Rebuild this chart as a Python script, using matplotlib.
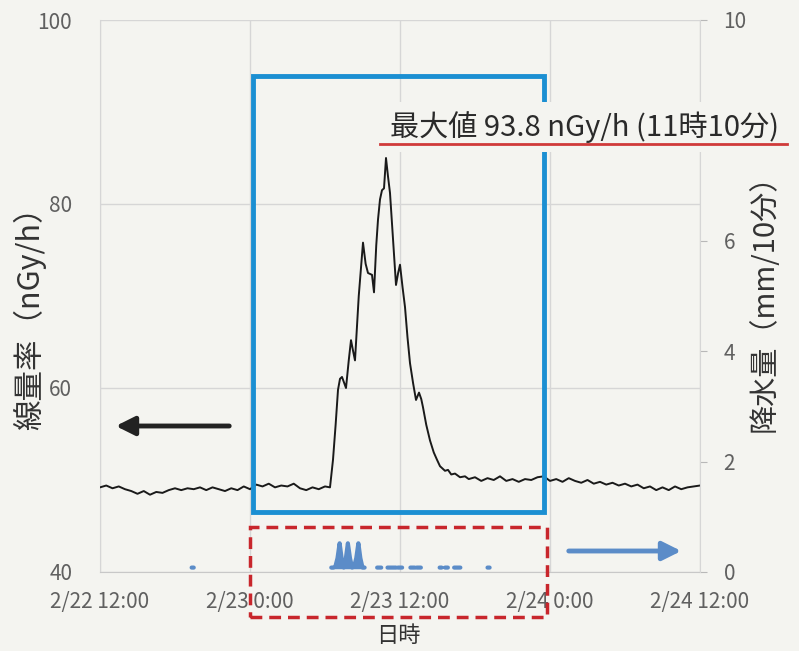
import numpy as np
import matplotlib
matplotlib.use("Agg")
import matplotlib.pyplot as plt
from matplotlib.patches import Rectangle, FancyArrowPatch
from matplotlib.lines import Line2D

plt.rcParams['font.family'] = ['Noto Sans CJK JP', 'DejaVu Sans']

nan = np.nan

# hours from 2/22 12:00
dose_h = [0.0, 0.5, 1.0, 1.5, 2.0, 2.5, 3.0, 3.5, 4.0, 4.5, 5.0, 5.5, 6.0, 6.5, 7.0, 7.5,
          8.0, 8.5, 9.0, 9.5, 10.0, 10.5, 11.0, 11.5, 12.0, 12.5, 13.0, 13.5, 14.0, 14.5,
          15.0, 15.5, 16.0, 16.5, 17.0, 17.5, 18.0, 18.4,
          18.64, 18.85, 19.04, 19.2, 19.36, 19.52, 19.68, 19.9, 20.08, 20.25, 20.4, 20.7,
          21.04, 21.25, 21.44, 21.6, 21.76, 21.92, 22.1, 22.24, 22.4, 22.56, 22.72, 22.88,
          23.04, 23.2, 23.45, 23.68, 23.85, 24.0, 24.2, 24.4, 24.6, 24.8, 25.05, 25.28,
          25.52, 25.7, 25.84, 26.1, 26.4, 26.7, 26.96, 27.2, 27.36, 27.6, 27.84, 28.1,
          28.4, 28.8, 29.2, 29.5, 30.0, 30.5, 31.0, 31.5, 32.0, 32.5, 33.0, 33.5, 34.0,
          34.5, 35.0, 35.5, 36.0, 36.5, 37.0, 37.5, 38.0, 38.5, 39.0, 39.5, 40.0, 40.5,
          41.0, 41.5, 42.0, 42.5, 43.0, 43.5, 44.0, 44.5, 45.0, 45.5, 46.0, 46.5, 47.0,
          47.5, 48.0]
dose_v = [49.2, 49.4, 49.1, 49.3, 49.0, 48.8, 48.5, 48.8, 48.4, 48.7, 48.6, 48.9, 49.1, 48.9, 49.1, 49.0,
          49.2, 48.9, 49.2, 49.0, 48.8, 49.1, 48.9, 49.3, 49.0, 49.5, 49.3, 49.6, 49.2, 49.4,
          49.3, 49.6, 49.1, 48.9, 49.2, 49.0, 49.3, 49.2,
          52.2, 56.0, 59.8, 61.0, 61.2, 60.6, 60.0, 63.0, 65.2, 64.0, 63.0, 70.0,
          75.8, 73.5, 72.5, 72.4, 72.3, 70.4, 75.5, 78.3, 80.5, 81.5, 81.7, 85.0,
          83.0, 81.2, 76.0, 71.2, 72.5, 73.4, 71.0, 68.8, 65.5, 62.7, 60.5, 58.7,
          59.5, 58.8, 57.9, 56.0, 54.3, 53.0, 52.2, 51.5, 51.3, 51.0, 51.1, 50.6,
          50.7, 50.3, 50.4, 50.1, 50.3, 49.9, 50.2, 50.0, 50.4, 49.9, 50.1, 49.8, 50.1,
          50.0, 50.3, 50.4, 49.9, 50.1, 49.8, 50.2, 49.9, 49.7, 50.0, 49.6, 49.8, 49.5,
          49.7, 49.4, 49.6, 49.3, 49.5, 49.1, 49.3, 48.9, 49.2, 48.9, 49.3, 49.0, 49.2,
          49.3, 49.4]

# rain (mm / 10 min), gaps marked with nan
rain_h = [7.33, 7.5, nan,
          18.5, 18.67, 18.83, 19.0, 19.17, 19.33, 19.5, 19.67, 19.83, 20.0, 20.17,
          20.33, 20.5, 20.67, 20.83, 21.0, 21.17, nan,
          22.17, 22.5, nan, 23.0, 23.67, nan, 23.83, 24.17, nan,
          24.83, 25.17, nan, 25.33, 25.67, nan,
          27.17, 27.33, nan, 27.6, 27.83, nan, 28.33, 28.83, nan, 31.0, 31.17]
rain_mm = [0.08, 0.08, nan,
           0.08, 0.08, 0.1, 0.25, 0.52, 0.25, 0.08, 0.25, 0.52, 0.25, 0.08,
           0.1, 0.25, 0.52, 0.25, 0.08, 0.08, nan,
           0.08, 0.08, nan, 0.08, 0.08, nan, 0.08, 0.08, nan,
           0.08, 0.08, nan, 0.08, 0.08, nan,
           0.08, 0.08, nan, 0.08, 0.08, nan, 0.08, 0.08, nan, 0.08, 0.08]

x_ticks = [0, 12, 24, 36, 48]
x_labels = ['2/22 12:00', '2/23 0:00', '2/23 12:00', '2/24 0:00', '2/24 12:00']

bg = '#f4f4f0'
grid_c = '#d6d6d6'
tick_c = '#606060'
rain_c = '#5b8cc8'

fig = plt.figure(figsize=(7.99, 6.51), dpi=100, facecolor=bg)
W, H = 799, 651
ax = fig.add_axes([100 / W, 1 - 572 / H, 600 / W, 552 / H])
ax.set_facecolor('none')

ax.set_xlim(0, 48)
ax.set_ylim(40, 100)
ax.set_xticks(x_ticks)
ax.set_xticklabels(x_labels)
ax.set_yticks([40, 60, 80, 100])
ax.tick_params(axis='both', length=0, colors=tick_c, labelsize=15)
ax.tick_params(axis='x', pad=14)
ax.tick_params(axis='y', pad=20)
ax.grid(True, color=grid_c, lw=1)
for s in ax.spines.values():
    s.set_visible(False)
ax.spines['left'].set_visible(True)
ax.spines['left'].set_color(grid_c)
ax.spines['bottom'].set_visible(True)
ax.spines['bottom'].set_color('#c8c8c8')

ax2 = ax.twinx()
ax2.set_ylim(0, 10)
# the 8 tick is hidden behind the annotation in the original
ax2.set_yticks([0, 2, 4, 6, 10])
ax2.tick_params(axis='y', length=5, color='#b8b8b8', colors=tick_c, labelsize=15, pad=12)
for s in ax2.spines.values():
    s.set_visible(False)
ax2.spines['right'].set_visible(True)
ax2.spines['right'].set_color(grid_c)

ax.plot(dose_h, dose_v, color='#1a1a1a', lw=1.4, zorder=3)
ax2.fill_between(rain_h, 0.05, rain_mm, color=rain_c, lw=0, zorder=3)
ax2.plot(rain_h, rain_mm, color=rain_c, lw=3, solid_capstyle='round', zorder=3)

# blue highlight box
ax.add_patch(Rectangle((12.24, 46.5), 35.52 - 12.24, 93.9 - 46.5, fill=False,
                       ec='#1b8fd2', lw=3.5, zorder=4))
# red dashed box under the axis
ax.add_patch(Rectangle((12.0, 35.1), 35.76 - 12.0, 44.9 - 35.1, fill=False,
                       ec='#c8262c', lw=2.5, ls=(0, (3.4, 2)), zorder=5, clip_on=False))

# annotation of maximum
fig.text(584 / W, 1 - 127 / H, '最大値 93.8 nGy/h (11時10分)', ha='center', va='center',
         fontsize=21, color='#2a2a2a', zorder=10,
         bbox=dict(boxstyle='square,pad=0.3', fc=bg, ec='none'))
fig.add_artist(Line2D([380 / W, 787 / W], [1 - 144 / H, 1 - 144 / H], color='#d03a3a',
                      lw=2, zorder=11))

# arrows
style = '-|>,head_length=0.8,head_width=0.4'
fig.add_artist(FancyArrowPatch((232 / W, 1 - 426 / H), (113 / W, 1 - 426 / H),
                               transform=fig.transFigure, arrowstyle=style,
                               mutation_scale=14, color='#222222', lw=3.5))
fig.add_artist(FancyArrowPatch((566 / W, 1 - 551 / H), (684 / W, 1 - 551 / H),
                               transform=fig.transFigure, arrowstyle=style,
                               mutation_scale=14, color=rain_c, lw=3.5))

# axis labels
fig.text(30 / W, 1 - 311 / H, '線量率（nGy/h）', rotation=90, ha='center', va='center',
         fontsize=22, color='#333333')
fig.text(765 / W, 1 - 296 / H, '降水量（mm/10分）', rotation=90, ha='center', va='center',
         fontsize=21, color='#333333')
fig.text(398 / W, 1 - 635 / H, '日時', ha='center', va='center', fontsize=16, color='#333333')

fig.savefig('out.png', dpi=100, facecolor=bg)
